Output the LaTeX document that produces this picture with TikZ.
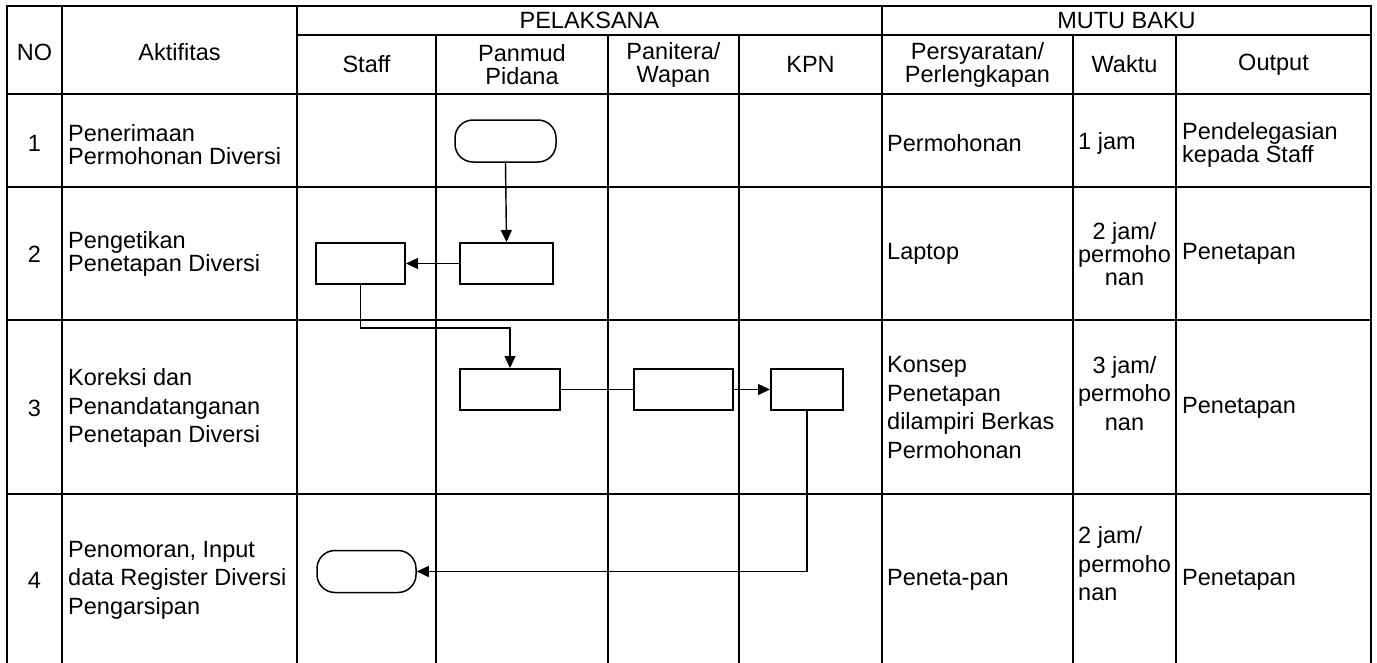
\documentclass[tikz,border=0pt]{standalone}
\usepackage{fontspec}
\setmainfont{Liberation Sans}
\usetikzlibrary{arrows.meta}
\usetikzlibrary{positioning}

\begin{document}
\begin{tikzpicture}[x=1pt, y=-1pt, >={Triangle[length=12pt,width=11pt]},
    grid/.style={line width=2.4pt, line cap=rect},
    tight/.style={font=\fontsize{23.5}{23}\selectfont},
    loose/.style={font=\fontsize{23.5}{28.5}\selectfont},
    lcell/.style={inner sep=0pt, align=left, anchor=west},
    ccell/.style={inner sep=0pt, align=center},
    procbox/.style={draw, line width=2pt, minimum width=#1, minimum height=41pt, inner sep=0pt},
    termbox/.style={draw, line width=1.5pt, rounded corners=18pt, minimum width=#1, minimum height=42pt, inner sep=0pt},
    flow/.style={line width=1.4pt}
]

\useasboundingbox (0,0) rectangle (1377,662);

%%% table
    \draw[grid] (7,6) -- (1371,6);
    \draw[grid] (297,35) -- (1371,35);
    \draw[grid] (7,94) -- (1371,94);
    \draw[grid] (7,187) -- (1371,187);
    \draw[grid] (7,320) -- (1371,320);
    \draw[grid] (7,494) -- (1371,494);

    \draw[grid] (7,6) -- (7,662);
    \draw[grid] (62,6) -- (62,662);
    \draw[grid] (297,6) -- (297,662);
    \draw[grid] (436,35) -- (436,662);
    \draw[grid] (608,35) -- (608,662);
    \draw[grid] (739,35) -- (739,662);
    \draw[grid] (882,6) -- (882,662);
    \draw[grid] (1073,35) -- (1073,662);
    \draw[grid] (1176,35) -- (1176,662);
    \draw[grid] (1371,6) -- (1371,662);

%%% header
    \node[ccell, tight] (hdno) at (34.5,52) {NO};
    \node[ccell, tight] (hdakt) at (179.5,52) {Aktifitas};
    \node[ccell, tight] (hdpel) at (589.5,20.5) {PELAKSANA};
    \node[ccell, tight] (hdmutu) at (1126.5,20.5) {MUTU BAKU};
    \node[ccell, tight] (hdstaff) at (366.5,64.5) {Staff};
    \node[ccell, tight] (hdpanmud) at (522,64.5) {Panmud\\Pidana};
    \node[ccell, tight] (hdpanitera) at (673.5,64.5) {Panitera/\\Wapan};
    \node[ccell, tight] (hdkpn) at (810.5,64.5) {KPN};
    \node[ccell, tight] (hdsyarat) at (977.5,64.5) {Persyaratan/\\Perlengkapan};
    \node[ccell, tight] (hdwaktu) at (1124.5,64.5) {Waktu};
    \node[ccell, tight] (hdoutput) at (1273.5,64.5) {Output};

%%% rows
    \node[ccell, tight] (no1) at (34.5,143) {1};
    \node[lcell, tight] (akt1) at (68,145) {Penerimaan\\Permohonan Diversi};
    \node[lcell, tight] (syarat1) at (887,143) {Permohonan};
    \node[lcell, tight] (waktu1) at (1078,143) {1 jam};
    \node[lcell, tight] (out1) at (1182,145) {Pendelegasian\\kepada Staff};

    \node[ccell, tight] (no2) at (34.5,254) {2};
    \node[lcell, tight] (akt2) at (68,254) {Pengetikan\\Penetapan Diversi};
    \node[lcell, tight] (syarat2) at (887,254) {Laptop};
    \node[ccell, tight] (waktu2) at (1124.5,254) {2 jam/\\permoho\\nan};
    \node[lcell, tight] (out2) at (1182,254) {Penetapan};

    \node[ccell, loose] (no3) at (34.5,408) {3};
    \node[lcell, loose] (akt3) at (68,408) {Koreksi dan\\Penandatanganan\\Penetapan Diversi};
    \node[lcell, loose] (syarat3) at (887,407.5) {Konsep\\Penetapan\\dilampiri Berkas\\Permohonan};
    \node[ccell, loose] (waktu3) at (1124.5,393.5) {3 jam/\\permoho\\nan};
    \node[lcell, loose] (out3) at (1182,408) {Penetapan};

    \node[ccell, loose] (no4) at (34.5,580) {4};
    \node[lcell, loose] (akt4) at (68,580) {Penomoran, Input\\data Register Diversi\\Pengarsipan};
    \node[lcell, loose] (syarat4) at (887,580) {Peneta-pan};
    \node[lcell, loose] (waktu4) at (1078,564) {2 jam/\\permoho\\nan};
    \node[lcell, loose] (out4) at (1182,580) {Penetapan};

%%% flow
    \node[termbox=101pt] (start1) at (505.5,141) {};
    \node[procbox=93pt] (panmud2) at (506.5,263.5) {};
    \node[procbox=89pt] (staff2) at (360.5,263.5) {};
    \node[procbox=100pt] (panmud3) at (510,389.5) {};
    \node[procbox=99pt] (panitera3) at (683.5,389.5) {};
    \node[procbox=72pt] (kpn3) at (807,389.5) {};
    \node[termbox=99pt] (end4) at (366.5,571.5) {};

    \draw[flow, ->] (start1.south) -- (panmud2.north);
    \draw[flow, ->] (panmud2.west) -- (staff2.east);
    \draw[flow, ->] (staff2.south) -- ++(0,43) -| (panmud3.north);
    \draw[flow] (panmud3.east) -- (panitera3.west);
    \draw[flow, ->] (panitera3.east) -- (kpn3.west);
    \draw[flow, ->] (kpn3.south) |- (end4.east);

\end{tikzpicture}
\end{document}
